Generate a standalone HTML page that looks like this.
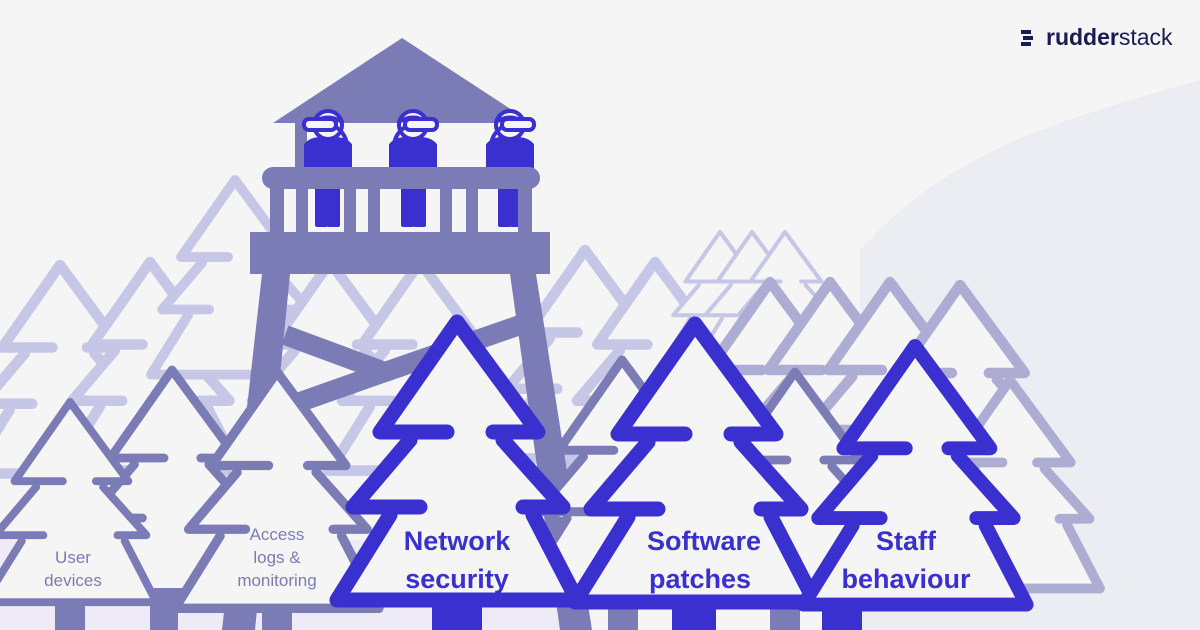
<!DOCTYPE html>
<html><head><meta charset="utf-8"><style>
html,body{margin:0;padding:0;background:#f5f5f6;}
svg{display:block}
text{font-family:"Liberation Sans",sans-serif;}
</style></head><body>
<svg width="1200" height="630" viewBox="0 0 1200 630" xmlns="http://www.w3.org/2000/svg">
<defs>
<g id="t">
<path d="M-120,278 H120 L76,193 M-120,278 L-67,193 M-47,118 L-104,185 H-37 M46,118 L106,185 H66 M-10,110 H-77 L0,0 L81,110 H36"/>
</g>
<g id="tf">
<path d="M0,0 L81,110 L46,118 L106,185 L76,193 L120,278 H-120 L-67,193 L-104,185 L-47,118 L-77,110 Z" stroke="none"/>
</g>
<g id="p">
<rect x="-10" y="40" width="9" height="60" fill="#3a2fcf"/>
<rect x="2" y="40" width="9" height="60" fill="#3a2fcf"/>
<path d="M-22,20 Q-15,12 0,15 Q15,12 22,20 L22,48 H-22 Z" fill="#3a2fcf"/>
<circle cx="0" cy="0" r="14" fill="#f5f5f6"/>
<path d="M-14,-3 Q0,-12 14,-3" fill="none"/>
<path d="M-18,28 Q-22,12 -8,2" fill="none"/>
<rect x="-8" y="-6" width="32" height="11" rx="5" fill="#f5f5f6"/>
</g>
</defs>
<rect width="1200" height="630" fill="#f5f5f6"/>
<path d="M860,250 C950,150 1060,120 1200,80 V630 H860 Z" fill="#ececf3"/>
<rect x="0" y="540" width="560" height="90" fill="#efebf6"/>

<!-- light back trees -->
<g fill="#f5f5f6" stroke="#c6c6e6" stroke-width="14" stroke-linecap="round" stroke-linejoin="round">
<g transform="translate(60,265) scale(0.75)"><use href="#tf"/><use href="#t"/></g>
<g transform="translate(150,262) scale(0.75)"><use href="#tf"/><use href="#t"/></g>
<g transform="translate(235,180) scale(0.7)"><use href="#tf"/><use href="#t"/></g>
<g transform="translate(330,262) scale(0.75)"><use href="#tf"/><use href="#t"/></g>
<g transform="translate(420,262) scale(0.75)"><use href="#tf"/><use href="#t"/></g>
<g transform="translate(585,250) scale(0.75)"><use href="#tf"/><use href="#t"/></g>
<g transform="translate(655,262) scale(0.75)"><use href="#tf"/><use href="#t"/></g>
<g transform="translate(720,232) scale(0.45)" stroke-width="9"><use href="#tf"/><use href="#t"/></g>
<g transform="translate(752,232) scale(0.45)" stroke-width="9"><use href="#tf"/><use href="#t"/></g>
<g transform="translate(785,232) scale(0.45)" stroke-width="9"><use href="#tf"/><use href="#t"/></g>
</g>
<g fill="#f5f5f6" stroke="#adadd4" stroke-width="13" stroke-linecap="round" stroke-linejoin="round">
<g transform="translate(770,282) scale(0.8)"><use href="#tf"/><use href="#t"/></g>
<g transform="translate(830,282) scale(0.8)"><use href="#tf"/><use href="#t"/></g>
<g transform="translate(890,282) scale(0.8)"><use href="#tf"/><use href="#t"/></g>
<g transform="translate(960,285) scale(0.8)"><use href="#tf"/><use href="#t"/></g>
<g transform="translate(1010,380) scale(0.75)"><use href="#tf"/><use href="#t"/></g>
</g>

<!-- tower -->
<g fill="#7b7bb5">
<polygon points="402,38 532,123 273,123"/>
<rect x="295" y="120" width="12" height="50"/>
<rect x="498" y="120" width="12" height="50"/>
<polygon points="262,274 290,274 255,630 222,630"/>
<polygon points="510,274 536,274 592,630 560,630"/>
</g>
<g stroke="#7b7bb5" stroke-width="20" stroke-linecap="butt" fill="none">
<path d="M285,335 L385,372 L300,402"/>
<path d="M385,372 L520,325"/>
</g>

<!-- people -->
<g stroke="#3a2fcf" stroke-width="4" stroke-linejoin="round" stroke-linecap="round">
<use href="#p" transform="translate(328,125) scale(-1,1)"/>
<use href="#p" transform="translate(413,125)"/>
<use href="#p" transform="translate(510,125)"/>
</g>
<g fill="#7b7bb5">
<rect x="262" y="167" width="278" height="22" rx="11"/>
<rect x="270" y="186" width="14" height="48"/>
<rect x="296" y="186" width="12" height="48"/>
<rect x="344" y="186" width="12" height="48"/>
<rect x="368" y="186" width="12" height="48"/>
<rect x="440" y="186" width="12" height="48"/>
<rect x="466" y="186" width="12" height="48"/>
<rect x="518" y="186" width="14" height="48"/>
<rect x="250" y="232" width="300" height="42"/>
</g>

<!-- gray trees -->
<g fill="#f5f5f6" stroke="#7b7bb5" stroke-width="11" stroke-linecap="round" stroke-linejoin="round">
<rect x="150" y="580" width="28" height="50" fill="#7b7bb5" stroke="none"/>
<g transform="translate(172,370) scale(0.8)"><use href="#tf"/><use href="#t"/></g>
<rect x="608" y="580" width="30" height="50" fill="#7b7bb5" stroke="none"/>
<g transform="translate(622,360) scale(0.82)"><use href="#tf"/><use href="#t"/></g>
<rect x="770" y="580" width="30" height="50" fill="#7b7bb5" stroke="none"/>
<g transform="translate(795,372) scale(0.8)"><use href="#tf"/><use href="#t"/></g>
<rect x="55" y="600" width="30" height="30" fill="#7b7bb5" stroke="none"/>
<g transform="translate(70,402) scale(0.72)"><use href="#tf"/><use href="#t"/></g>
<rect x="262" y="605" width="30" height="25" fill="#7b7bb5" stroke="none"/>
<g transform="translate(277,372) scale(0.85)"><use href="#tf"/><use href="#t"/></g>
</g>

<!-- blue trees -->
<g fill="#f5f5f6" stroke="#3a2fcf" stroke-width="15" stroke-linecap="round" stroke-linejoin="round">
<rect x="432" y="600" width="50" height="30" fill="#3a2fcf" stroke="none"/>
<g transform="translate(457,322)"><use href="#tf"/><use href="#t"/></g>
<rect x="672" y="600" width="44" height="30" fill="#3a2fcf" stroke="none"/>
<g transform="translate(695,324)"><use href="#tf"/><use href="#t"/></g>
<rect x="822" y="600" width="40" height="30" fill="#3a2fcf" stroke="none"/>
<g transform="translate(915,346) scale(0.93)"><use href="#tf"/><use href="#t"/></g>
</g>

<g font-size="17" fill="#7b7bb5" text-anchor="middle">
<text x="73" y="563">User</text>
<text x="73" y="586">devices</text>
<text x="277" y="540">Access</text>
<text x="277" y="563">logs &amp;</text>
<text x="277" y="586">monitoring</text>
</g>
<g font-size="27" font-weight="bold" fill="#3a2fcf" text-anchor="middle">
<text x="457" y="550">Network</text>
<text x="457" y="588">security</text>
<text x="704" y="550">Software</text>
<text x="700" y="588">patches</text>
<text x="906" y="550">Staff</text>
<text x="906" y="588">behaviour</text>
</g>

<!-- logo -->
<g fill="#1b1a55">
<rect x="1021" y="30" width="10" height="4"/>
<rect x="1023" y="36" width="10" height="4"/>
<rect x="1021" y="42" width="10" height="4"/>
</g>
<text x="1046" y="45" font-size="23" font-weight="bold" fill="#1b1a55">rudder<tspan font-weight="normal">stack</tspan></text>
</svg>
</body></html>
